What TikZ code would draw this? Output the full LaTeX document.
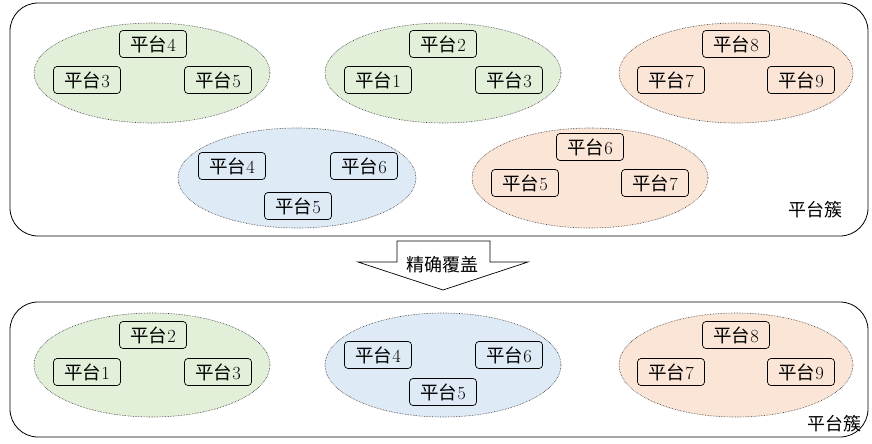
\documentclass[tikz,border=0pt]{standalone}
\usepackage{fontspec}
\newfontfamily\cjk{Noto Sans CJK SC}
\newcommand{\ptai}[1]{{\cjk 平台}#1}
\definecolor{cgreen}{HTML}{E2EFD9}
\definecolor{cblue}{HTML}{DEEBF7}
\definecolor{corange}{HTML}{FBE5D6}
\tikzset{
  cluster/.style={draw=black, line width=0.8pt, rounded corners=28pt},
  grp/.style={draw=black!80, densely dotted, line width=0.6pt},
  plat/.style={draw=black, line width=0.7pt, rounded corners=3.5pt, minimum width=67pt, minimum height=27pt, inner sep=0pt, font=\fontsize{18.5}{20}\selectfont},
  lbl/.style={font=\fontsize{18}{20}\selectfont\cjk, inner sep=0pt},
}
\begin{document}
\begin{tikzpicture}[x=1pt,y=-1pt]
\useasboundingbox (0,0) rectangle (872,444);
% clusters
\draw[cluster] (10,3) rectangle (868,236);
\draw[cluster] (10,302) rectangle (868,437);
% top ellipses
\fill[cgreen] (152,73) ellipse [x radius=118, y radius=50];
\draw[grp] (152,73) ellipse [x radius=118, y radius=50];
\fill[cgreen] (443,73) ellipse [x radius=118, y radius=50];
\draw[grp] (443,73) ellipse [x radius=118, y radius=50];
\fill[corange] (736,73) ellipse [x radius=117, y radius=50];
\draw[grp] (736,73) ellipse [x radius=117, y radius=50];
\fill[cblue] (297,178) ellipse [x radius=119, y radius=50];
\draw[grp] (297,178) ellipse [x radius=119, y radius=50];
\fill[corange] (590,178) ellipse [x radius=118, y radius=50];
\draw[grp] (590,178) ellipse [x radius=118, y radius=50];
% bottom ellipses
\fill[cgreen] (152,365) ellipse [x radius=118, y radius=52];
\draw[grp] (152,365) ellipse [x radius=118, y radius=52];
\fill[cblue] (443,365) ellipse [x radius=118, y radius=52];
\draw[grp] (443,365) ellipse [x radius=118, y radius=52];
\fill[corange] (736,365) ellipse [x radius=117, y radius=52];
\draw[grp] (736,365) ellipse [x radius=117, y radius=52];
% top row nodes
\node[plat] (a4) at (153,44) {\ptai{4}};
\node[plat] (a3) at (87,80) {\ptai{3}};
\node[plat] (a5) at (218,80) {\ptai{5}};
\node[plat] (b2) at (443,44) {\ptai{2}};
\node[plat] (b1) at (378,80) {\ptai{1}};
\node[plat] (b3) at (509,80) {\ptai{3}};
\node[plat] (c8) at (736,44) {\ptai{8}};
\node[plat] (c7) at (671,80) {\ptai{7}};
\node[plat] (c9) at (801,80) {\ptai{9}};
\node[plat] (d4) at (232,166) {\ptai{4}};
\node[plat] (d6) at (364,166) {\ptai{6}};
\node[plat] (d5) at (298,206) {\ptai{5}};
\node[plat] (e6) at (590,147) {\ptai{6}};
\node[plat] (e5) at (525,183) {\ptai{5}};
\node[plat] (e7) at (655,183) {\ptai{7}};
\node[lbl] (t1) at (815,210) {平台簇};
% arrow
\draw[line width=0.7pt, fill=white] (397,241) -- (490,241) -- (490,262) -- (528,262) -- (443,290) -- (358,262) -- (397,262) -- cycle;
\node[lbl] (arr) at (442,265) {精确覆盖};
% bottom row nodes
\node[plat] (f2) at (153,335) {\ptai{2}};
\node[plat] (f1) at (87,372) {\ptai{1}};
\node[plat] (f3) at (218,372) {\ptai{3}};
\node[plat] (g4) at (378,355) {\ptai{4}};
\node[plat] (g6) at (509,355) {\ptai{6}};
\node[plat] (g5) at (443,392) {\ptai{5}};
\node[plat] (h8) at (736,335) {\ptai{8}};
\node[plat] (h7) at (671,372) {\ptai{7}};
\node[plat] (h9) at (801,372) {\ptai{9}};
\node[lbl] (t2) at (834,424) {平台簇};
\end{tikzpicture}
\end{document}
